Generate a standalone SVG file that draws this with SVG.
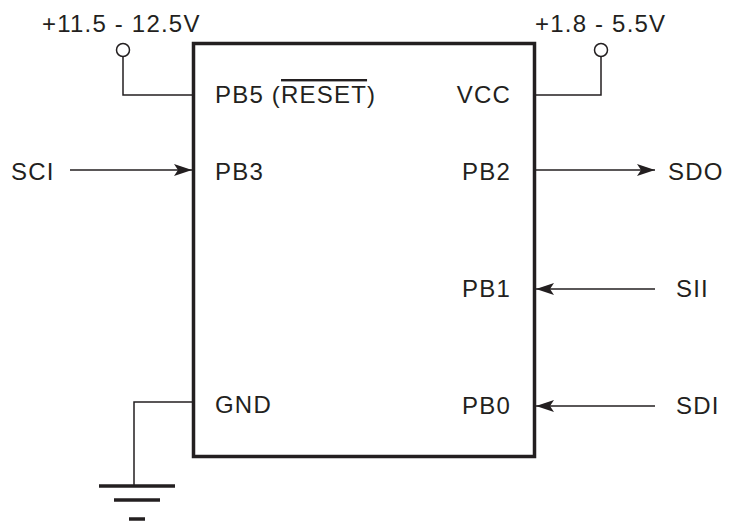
<svg xmlns="http://www.w3.org/2000/svg" width="735" height="522" viewBox="0 0 735 522">
<style>
text{font-family:"Liberation Sans",Arial,sans-serif;font-size:24px;letter-spacing:1.2px;fill:#231f20}
.w{fill:none;stroke:#231f20;stroke-width:1.5}
.g{fill:none;stroke:#231f20;stroke-width:3.5}
</style>
<defs>
<marker id="ah" markerWidth="18" markerHeight="12" refX="18" refY="6" orient="auto" markerUnits="userSpaceOnUse">
<path d="M0,0 L18,6 L0,12 L4,6 Z" fill="#231f20"/>
</marker>
</defs>
<rect width="735" height="522" fill="#fff"/>
<g id="chip">
<rect x="193.5" y="43.5" width="341" height="413" fill="none" stroke="#231f20" stroke-width="3.5"/>
<text x="215" y="103">PB5 (<tspan text-decoration="overline">RESET</tspan>)</text>
<text x="511" y="103" text-anchor="end">VCC</text>
<text x="215" y="180">PB3</text>
<text x="511" y="180" text-anchor="end">PB2</text>
<text x="511" y="297" text-anchor="end">PB1</text>
<text x="215" y="413">GND</text>
<text x="511" y="414" text-anchor="end">PB0</text>
</g>
<g id="vpp">
<text x="42" y="32">+11.5 - 12.5V</text>
<circle cx="123" cy="50" r="6.5" fill="#fff" stroke="#231f20" stroke-width="1.5"/>
</g>
<g id="vcc">
<text x="535" y="32">+1.8 - 5.5V</text>
<circle cx="601" cy="50" r="6.5" fill="#fff" stroke="#231f20" stroke-width="1.5"/>
</g>
<g id="sci"><text x="11" y="180">SCI</text></g>
<g id="sdo"><text x="668" y="180">SDO</text></g>
<g id="sii"><text x="676" y="297">SII</text></g>
<g id="sdi"><text x="676" y="414">SDI</text></g>
<g id="ground">
<line class="g" x1="99" y1="486" x2="175" y2="486"/>
<line class="g" x1="114" y1="500" x2="160" y2="500"/>
<line class="g" x1="129" y1="519" x2="145" y2="519"/>
</g>
<g id="connectors">
<polyline class="w" points="123,56.5 123,95 192,95"/>
<polyline class="w" points="601,56.5 601,95 536,95"/>
<line class="w" x1="70" y1="170" x2="192" y2="170" marker-end="url(#ah)"/>
<line class="w" x1="536" y1="170" x2="655" y2="170" marker-end="url(#ah)"/>
<line class="w" x1="655" y1="289" x2="536" y2="289" marker-end="url(#ah)"/>
<line class="w" x1="655" y1="406" x2="536" y2="406" marker-end="url(#ah)"/>
<polyline class="w" points="192,402 134,402 134,486"/>
</g>
</svg>
